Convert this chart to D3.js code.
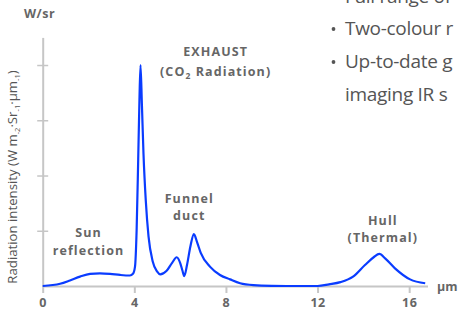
<!DOCTYPE html>
<html><head><meta charset="utf-8">
<script src="https://cdn.jsdelivr.net/npm/d3@7"></script>
<style>
html,body{margin:0;padding:0;background:#fff;overflow:hidden}
svg{display:block}
</style></head>
<body>
<svg id="c" width="458" height="311"></svg>
<script>
// Wavelength (μm) and radiation intensity (W/sr, arbitrary units of y axis ticks)
const wavelength = [0, 0.76, 1.19, 1.63, 2.07, 2.5, 2.94, 3.38, 3.81, 3.94, 4.03, 4.1, 4.17, 4.22, 4.27, 4.33, 4.4, 4.5, 4.62, 4.8, 5.0, 5.13, 5.4, 5.65, 5.85, 6.0, 6.1, 6.18, 6.3, 6.45, 6.6, 6.75, 6.9, 7.3, 7.74, 8.18, 8.62, 9.2, 10, 11, 12, 12.5, 13.0, 13.55, 14.07, 14.45, 14.7, 14.95, 15.38, 16.04, 16.7];
const intensity  = [0, 0.04, 0.10, 0.17, 0.22, 0.23, 0.22, 0.20, 0.19, 0.22, 0.35, 1.0, 2.3, 3.3, 4.0, 3.3, 2.4, 1.55, 0.9, 0.45, 0.26, 0.21, 0.27, 0.42, 0.52, 0.42, 0.28, 0.18, 0.38, 0.72, 0.94, 0.78, 0.6, 0.35, 0.20, 0.12, 0.05, 0.015, 0.003, 0, 0, 0.03, 0.07, 0.17, 0.38, 0.52, 0.58, 0.5, 0.32, 0.12, 0.05];
const xTicks = [0, 4, 8, 12, 16];
const yTicks = [1, 2, 3, 4];
const annotations = [
  {lines: ["EXHAUST", "(CO|2| Radiation)"], x: 7.55, yPx: [56, 76]},
  {lines: ["Funnel", "duct"], x: 6.4, yPx: [203, 220]},
  {lines: ["Sun", "reflection"], x: 2.0, yPx: [237, 255]},
  {lines: ["Hull", "(Thermal)"], x: 14.85, yPx: [225, 242]}
];
const bulletLines = [
  {text: "Full range of", bullet: false, y: 3},
  {text: "Two-colour r", bullet: true, y: 35},
  {text: "Up-to-date g", bullet: true, y: 68},
  {text: "imaging IR s", bullet: false, y: 101}
];

const svg = d3.select("#c");
const x = d3.scaleLinear().domain([0, 16.8]).range([42.7, 427.5]);
const y = d3.scaleLinear().domain([0, 4.5]).range([286, 37.4]);
const axisColor = "#c6c6c6";
const textColor = "#666";
const font = "'Open Sans', sans-serif";

// X axis
const xa = svg.append("g").attr("transform", "translate(0,286)")
  .call(d3.axisBottom(x).tickValues(xTicks).tickSize(7).tickPadding(5).tickSizeOuter(0));
xa.select(".domain").attr("stroke", axisColor).attr("stroke-width", 2);
xa.selectAll(".tick line").attr("stroke", axisColor).attr("stroke-width", 2);
xa.selectAll(".tick text").attr("fill", textColor).attr("font-family", font)
  .attr("font-weight", 700).attr("font-size", 12.5).attr("letter-spacing", 0.5);

// Y axis
const ya = svg.append("g").attr("transform", "translate(42.7,0)")
  .call(d3.axisLeft(y).tickValues(yTicks).tickSize(5.5).tickFormat("").tickSizeOuter(0));
ya.select(".domain").attr("stroke", axisColor).attr("stroke-width", 2);
ya.selectAll(".tick line").attr("stroke", axisColor).attr("stroke-width", 1.5).attr("x2", 5.5).attr("x1", -5.5);

// Units
svg.append("text").attr("x", 24).attr("y", 18).text("W/sr")
  .attr("fill", textColor).attr("font-family", font).attr("font-weight", 700).attr("font-size", 12.5).attr("letter-spacing", 0.5);
svg.append("text").attr("x", 437).attr("y", 291).text("μm")
  .attr("fill", textColor).attr("font-family", font).attr("font-weight", 700).attr("font-size", 12.5);

// Y label
const yl = svg.append("text").attr("transform", "translate(17,177) rotate(-90)")
  .attr("text-anchor", "middle").attr("fill", "#555").attr("font-family", font).attr("font-size", 13.2);
yl.append("tspan").text("Radiation intensity (W m");
yl.append("tspan").text("-2").attr("font-size", 7.5).attr("dy", 3);
yl.append("tspan").text("·Sr").attr("dy", -3);
yl.append("tspan").text("-1").attr("font-size", 7.5).attr("dy", 3);
yl.append("tspan").text("·μm").attr("dy", -3);
yl.append("tspan").text("-1").attr("font-size", 7.5).attr("dy", 3);
yl.append("tspan").text(")").attr("dy", -3);

// Curve
const pts = wavelength.map((w, i) => [w, intensity[i]]);
svg.append("path").datum(pts)
  .attr("d", d3.line().x(d => x(d[0])).y(d => y(d[1])).curve(d3.curveMonotoneX))
  .attr("fill", "none").attr("stroke", "#0a3cff").attr("stroke-width", 2.2)
  .attr("stroke-linejoin", "round");

// Annotations
annotations.forEach(a => {
  a.lines.forEach((ln, i) => {
    const t = svg.append("text").attr("x", x(a.x)).attr("y", a.yPx[i])
      .attr("text-anchor", "middle").attr("fill", textColor).attr("font-family", font)
      .attr("font-weight", 700).attr("font-size", 12.5).attr("letter-spacing", 1.1);
    const parts = ln.split("|");
    if (parts.length === 1) { t.text(ln); }
    else {
      t.append("tspan").text(parts[0]);
      t.append("tspan").text(parts[1]).attr("font-size", 8.5).attr("dy", 3);
      t.append("tspan").text(parts[2]).attr("dy", -3);
    }
  });
});

// Side text (cropped at the right edge, as in the source)
bulletLines.forEach(b => {
  if (b.bullet) svg.append("circle").attr("cx", 333.5).attr("cy", b.y - 6).attr("r", 1.9).attr("fill", "#555");
  svg.append("text").attr("x", 345).attr("y", b.y).text(b.text)
    .attr("fill", "#555").attr("font-family", font).attr("font-size", 19).attr("letter-spacing", -0.3);
});
</script>
</body></html>
